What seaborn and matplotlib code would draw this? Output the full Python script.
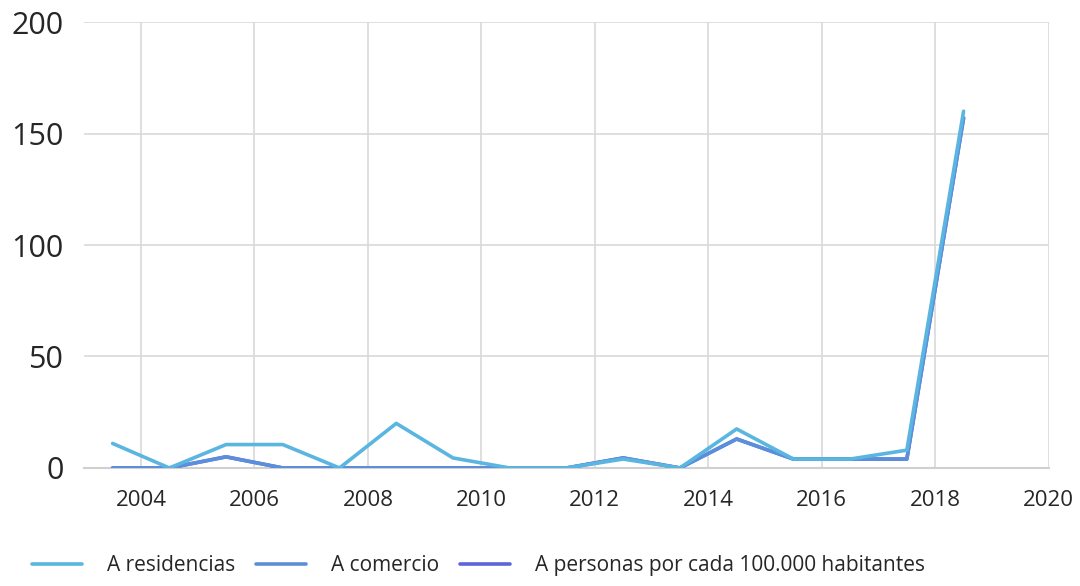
import pandas as pd
import matplotlib.pyplot as plt
import seaborn as sns

years = [2003.5, 2004.5, 2005.5, 2006.5, 2007.5, 2008.5, 2009.5, 2010.5,
         2011.5, 2012.5, 2013.5, 2014.5, 2015.5, 2016.5, 2017.5, 2018.5]
residencias = [11, 0, 10.5, 10.5, 0, 20, 4.5, 0, 0, 4, 0, 17.5, 4, 4, 8, 160]
comercio = [0, 0, 5, 0, 0, 0, 0, 0, 0, 4.5, 0, 13, 4, 4, 4, 157]
personas = [0, 0, 5, 0, 0, 0, 0, 0, 0, 4.5, 0, 13, 4, 4, 4, 157]

series = ["A residencias", "A comercio", "A personas por cada 100.000 habitantes"]
colors = ["#5ab6e0", "#5b8fdc", "#5c66d8"]
x_ticks = [2004, 2006, 2008, 2010, 2012, 2014, 2016, 2018, 2020]
y_ticks = [0, 50, 100, 150, 200]

df = pd.DataFrame({
    "year": years * 3,
    "value": residencias + comercio + personas,
    "serie": [series[0]] * len(years) + [series[1]] * len(years) + [series[2]] * len(years),
})

sns.set_theme(style="white")
plt.rcParams["font.family"] = ["Open Sans", "DejaVu Sans"]

fig = plt.figure(figsize=(10.8, 5.86), dpi=100)
ax = fig.add_axes([0.078, 0.2014, 0.893, 0.761])

# personas goes under comercio, residencias on top
draw_order = [2, 1, 0]
for z, i in enumerate(draw_order):
    sub = df[df["serie"] == series[i]]
    sns.lineplot(data=sub, x="year", y="value", color=colors[i], linewidth=2.6,
                 ax=ax, label=series[i], zorder=3 + z)

ax.set_xlim(2003, 2020)
ax.set_ylim(0, 200)
ax.set_xticks(x_ticks)
ax.set_yticks(y_ticks)
ax.set_xlabel("")
ax.set_ylabel("")
ax.grid(True, color="#d9d9d9", linewidth=1.2)
for s in ["top", "right", "left"]:
    ax.spines[s].set_visible(False)
ax.spines["bottom"].set_color("#d0d0d0")
ax.spines["bottom"].set_linewidth(1.5)
ax.tick_params(axis="y", labelsize=22, colors="#262626", length=0, pad=15)
ax.tick_params(axis="x", labelsize=16, colors="#262626", length=0, pad=16)

h, l = ax.get_legend_handles_labels()
lookup = dict(zip(l, h))
ax.get_legend().remove()
fig.legend([lookup[s] for s in series], series, loc="lower left",
           bbox_to_anchor=(0.012, -0.015), ncol=3, frameon=False, fontsize=15,
           handlelength=2.4, columnspacing=1.0, handletextpad=1.2)

fig.savefig("out.png", dpi=100)
